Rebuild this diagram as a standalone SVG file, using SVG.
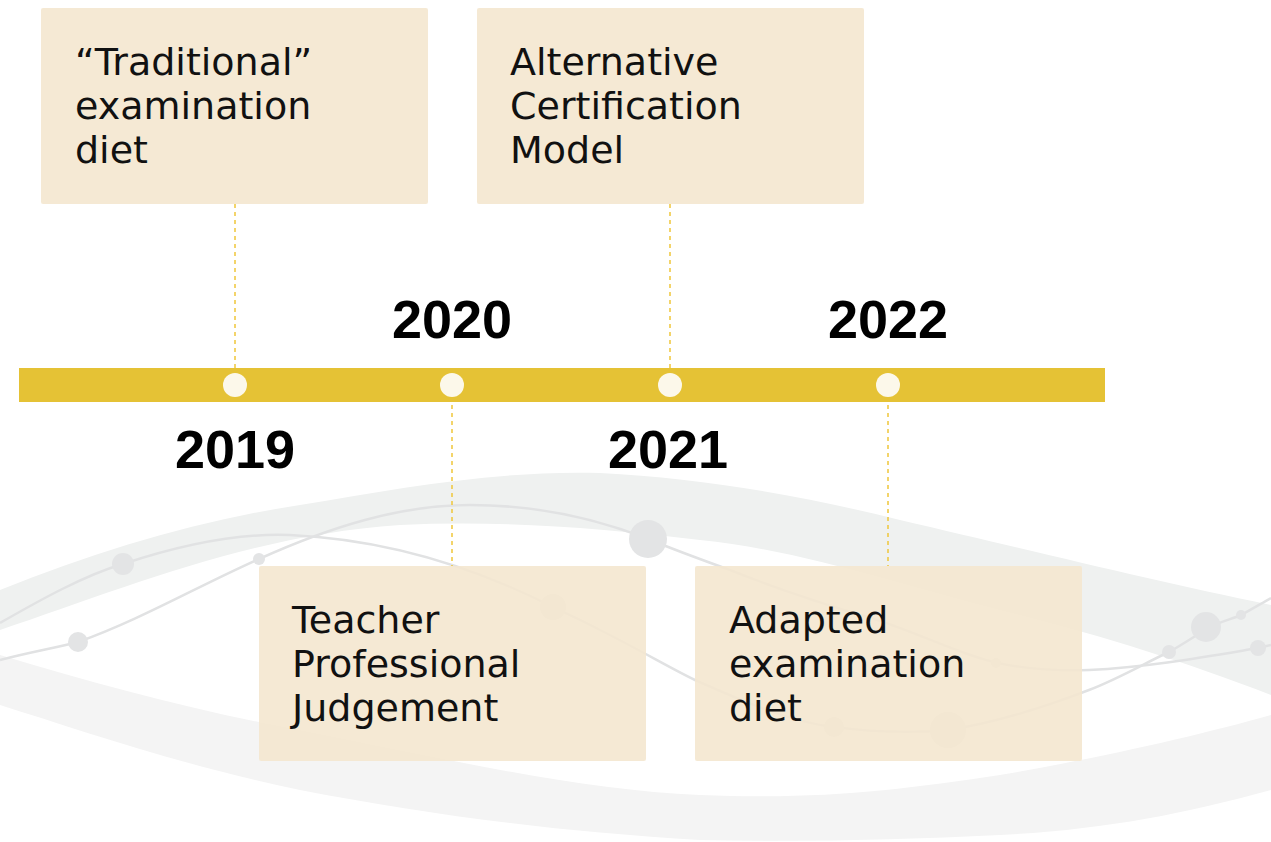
<svg xmlns="http://www.w3.org/2000/svg" width="1271" height="842" viewBox="0 0 1271 842">
<style>
.band-a{fill:#eff1f0}
.band-b{fill:#f4f4f4}
.wire{fill:none;stroke:#e1e2e3;stroke-width:2.5}
.dot{fill:#e3e4e5}
.box{fill:#f4e7cf;fill-opacity:0.9}
.lbl{font-family:"DejaVu Sans","Liberation Sans",sans-serif;font-size:38px;fill:#111}
.year{font-family:"Liberation Sans",Arial,sans-serif;font-size:54px;font-weight:bold;fill:#000;text-anchor:middle}
.bar{fill:#e5c235}
.pin{fill:#fcf8ea}
.conn{stroke:#f0c63a;stroke-width:1.5;stroke-dasharray:4 4;fill:none}
</style>
<rect width="1271" height="842" fill="#ffffff"/>
<g id="background">
<path class="band-a" d="M0,590 C100,550 200,520 300,505 C400,488 500,470 600,473 C700,478 800,495 900,520 C1050,555 1150,580 1271,605 L1271,695 C1180,660 1100,635 1000,610 C900,585 800,550 700,540 C600,528 500,520 400,525 C250,535 120,590 0,630 Z"/>
<path class="band-b" d="M0,655 C100,685 200,712 300,730 C450,760 580,790 700,795 C820,800 900,790 1000,775 C1100,758 1200,735 1271,715 L1271,790 C1180,815 1100,830 1000,835 C900,840 800,842 700,840 C560,832 430,815 300,790 C180,765 80,730 0,705 Z"/>
<path class="wire" d="M0,623 C40,600 85,575 123,564 C180,545 240,533 290,535 C400,540 490,575 553,607 C570,615 585,622 600,630 C640,650 670,668 695,680 C740,700 790,722 834,727 C880,733 915,733 948,730 C1000,722 1050,705 1089,690 C1120,678 1145,663 1169,652 C1185,643 1198,634 1210,627 C1222,621 1232,619 1241,615 C1252,609 1262,603 1271,598"/>
<path class="wire" d="M0,660 C30,652 55,648 78,642 C140,620 200,585 259,559 C330,527 400,505 470,505 C540,505 600,520 648,539 C680,552 705,561 730,570 C780,590 830,606 868,617 C920,633 960,655 998,663 C1030,670 1060,671 1089,670 C1150,667 1210,656 1258,648 L1271,645"/>
<circle class="dot" cx="123" cy="564" r="11"/>
<circle class="dot" cx="78" cy="642" r="10"/>
<circle class="dot" cx="259" cy="559" r="6"/>
<circle class="dot" cx="648" cy="539" r="19"/>
<circle class="dot" cx="553" cy="607" r="13"/>
<circle class="dot" cx="834" cy="727" r="10"/>
<circle class="dot" cx="948" cy="730" r="18"/>
<circle class="dot" cx="996" cy="663" r="5"/>
<circle class="dot" cx="1169" cy="652" r="7"/>
<circle class="dot" cx="1206" cy="627" r="15"/>
<circle class="dot" cx="1241" cy="615" r="5"/>
<circle class="dot" cx="1258" cy="648" r="8"/>
</g>
<g id="connectors">
<line class="conn" x1="235" y1="204" x2="235" y2="373"/>
<line class="conn" x1="670" y1="204" x2="670" y2="373"/>
<line class="conn" x1="452" y1="397" x2="452" y2="566"/>
<line class="conn" x1="888" y1="397" x2="888" y2="566"/>
</g>
<g id="timeline">
<rect class="bar" x="19" y="368" width="1086" height="34"/>
<circle class="pin" cx="235" cy="385" r="12"/>
<circle class="pin" cx="452" cy="385" r="12"/>
<circle class="pin" cx="670" cy="385" r="12"/>
<circle class="pin" cx="888" cy="385" r="12"/>
</g>
<g id="year-2019"><text class="year" x="235" y="468">2019</text></g>
<g id="year-2020"><text class="year" x="452" y="338">2020</text></g>
<g id="year-2021"><text class="year" x="668" y="468">2021</text></g>
<g id="year-2022"><text class="year" x="888" y="338">2022</text></g>
<g id="node-traditional">
<rect class="box" x="41" y="8" width="387" height="196" rx="2"/>
<text class="lbl" x="75" y="75">“Traditional”</text>
<text class="lbl" x="75" y="119">examination</text>
<text class="lbl" x="75" y="163">diet</text>
</g>
<g id="node-acm">
<rect class="box" x="477" y="8" width="387" height="196" rx="2"/>
<text class="lbl" x="510" y="75">Alternative</text>
<text class="lbl" x="510" y="119">Certification</text>
<text class="lbl" x="510" y="163">Model</text>
</g>
<g id="node-tpj">
<rect class="box" x="259" y="566" width="387" height="195" rx="2"/>
<text class="lbl" x="292" y="633">Teacher</text>
<text class="lbl" x="292" y="677">Professional</text>
<text class="lbl" x="292" y="721">Judgement</text>
</g>
<g id="node-adapted">
<rect class="box" x="695" y="566" width="387" height="195" rx="2"/>
<text class="lbl" x="729" y="633">Adapted</text>
<text class="lbl" x="729" y="677">examination</text>
<text class="lbl" x="729" y="721">diet</text>
</g>
</svg>
